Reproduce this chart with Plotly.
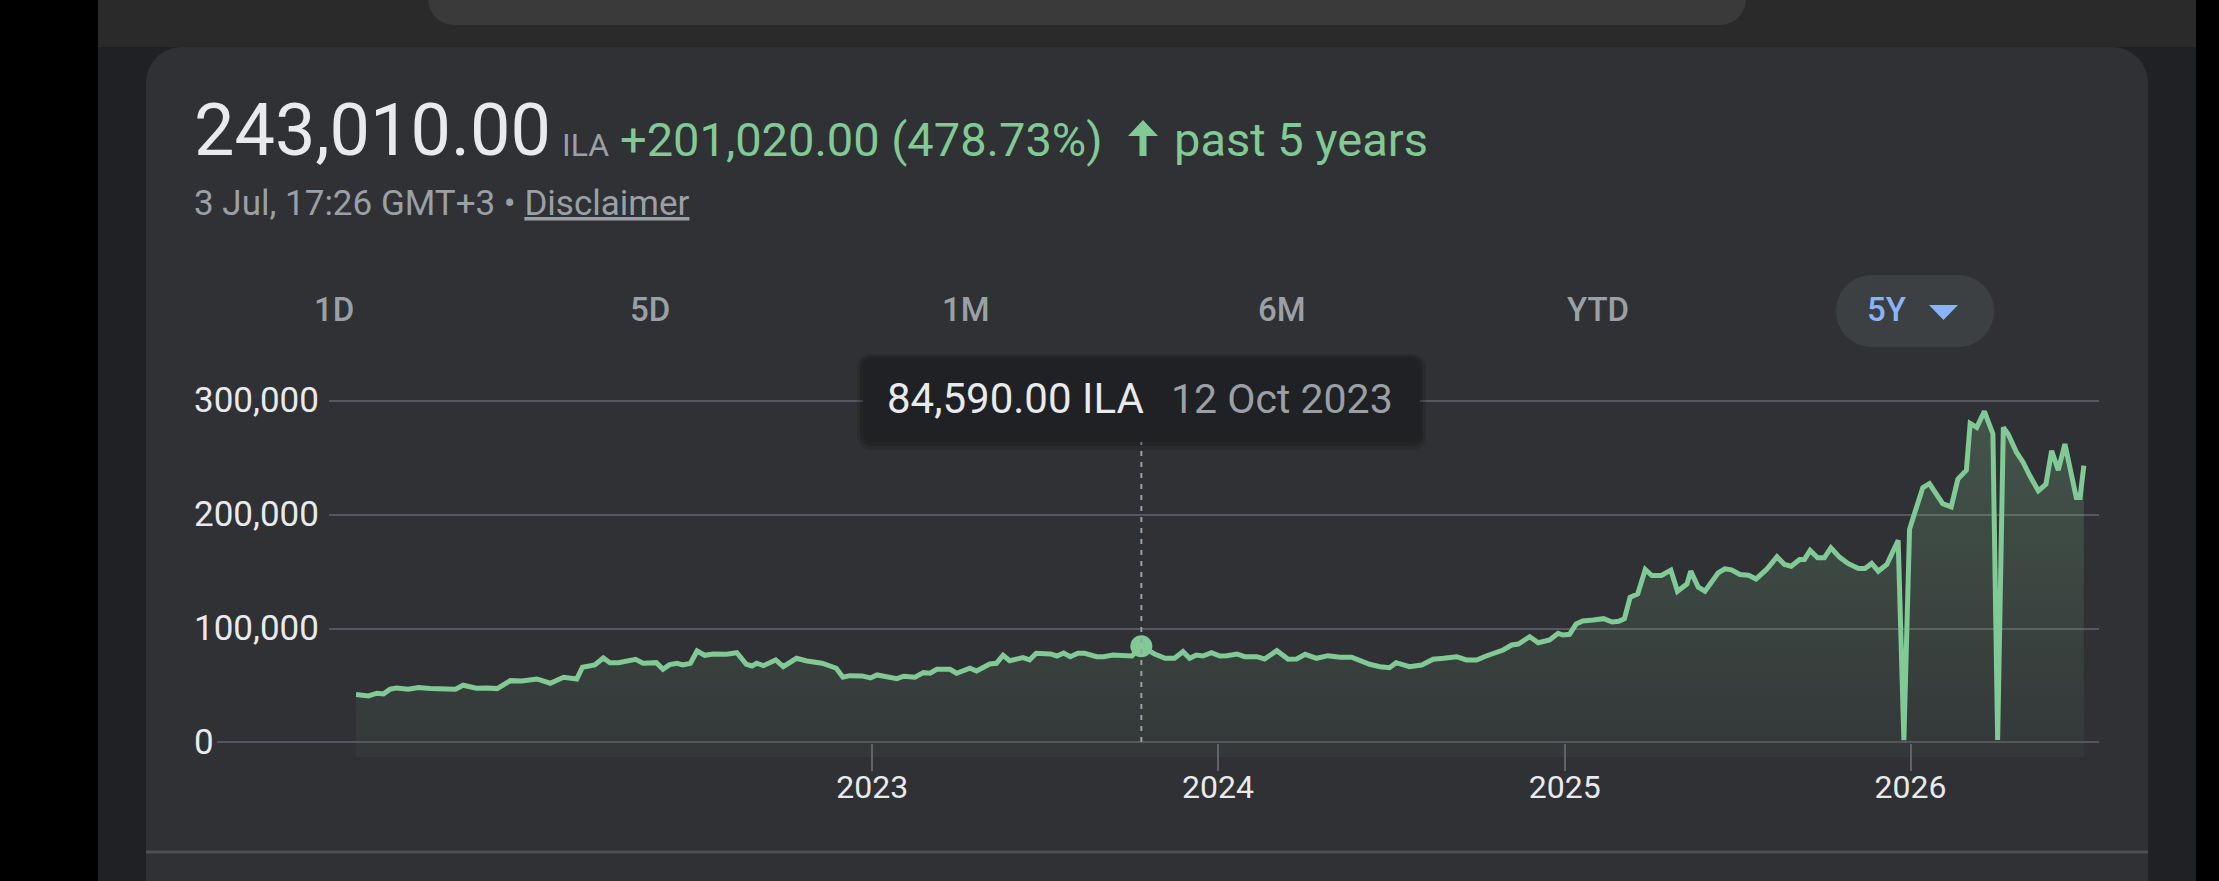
import plotly.graph_objects as go

W, H = 2219, 881

# price series (ILA)
dates = [
    "2021-07-05", "2021-07-18", "2021-07-27", "2021-08-03", "2021-08-10", "2021-08-17", "2021-08-29",
    "2021-09-09", "2021-09-21", "2021-10-09", "2021-10-18", "2021-10-26", "2021-11-09", "2021-11-20",
    "2021-12-01", "2021-12-15", "2021-12-27", "2022-01-12", "2022-01-26", "2022-02-09", "2022-02-23",
    "2022-03-01", "2022-03-14", "2022-03-23", "2022-03-30", "2022-04-08", "2022-04-26", "2022-05-04",
    "2022-05-18", "2022-05-25", "2022-06-01", "2022-06-09", "2022-06-15", "2022-06-23", "2022-06-30",
    "2022-07-08", "2022-07-17", "2022-07-31", "2022-08-11", "2022-08-21", "2022-08-27", "2022-09-01",
    "2022-09-08", "2022-09-21", "2022-09-29", "2022-10-13", "2022-10-24", "2022-11-09", "2022-11-24",
    "2022-12-01", "2022-12-08", "2022-12-21", "2022-12-30", "2023-01-06", "2023-01-14", "2023-01-21",
    "2023-01-27", "2023-02-03", "2023-02-15", "2023-02-24", "2023-03-03", "2023-03-10", "2023-03-24",
    "2023-03-31", "2023-04-14", "2023-04-21", "2023-05-05", "2023-05-12", "2023-05-19", "2023-05-26",
    "2023-06-09", "2023-06-16", "2023-06-23", "2023-07-08", "2023-07-15", "2023-07-22", "2023-07-29",
    "2023-08-06", "2023-08-13", "2023-08-26", "2023-09-02", "2023-09-12", "2023-09-26", "2023-10-02",
    "2023-10-12", "2023-10-26", "2023-11-06", "2023-11-16", "2023-11-25", "2023-12-02", "2023-12-09",
    "2023-12-16", "2023-12-25", "2024-01-03", "2024-01-10", "2024-01-21", "2024-01-29", "2024-02-11",
    "2024-02-19", "2024-03-03", "2024-03-15", "2024-03-24", "2024-04-02", "2024-04-14", "2024-04-26",
    "2024-05-09", "2024-05-21", "2024-05-31", "2024-06-09", "2024-06-20", "2024-06-30", "2024-07-07",
    "2024-07-21", "2024-08-03", "2024-08-15", "2024-08-26", "2024-09-09", "2024-09-19", "2024-09-30",
    "2024-10-10", "2024-10-19", "2024-10-28", "2024-11-06", "2024-11-13", "2024-11-25", "2024-12-04",
    "2024-12-16", "2024-12-25", "2024-12-30", "2025-01-06", "2025-01-13", "2025-01-20", "2025-01-31",
    "2025-02-11", "2025-02-20", "2025-02-27", "2025-03-05", "2025-03-11", "2025-03-19", "2025-03-27",
    "2025-04-03", "2025-04-13", "2025-04-23", "2025-04-30", "2025-05-10", "2025-05-14", "2025-05-22",
    "2025-05-29", "2025-06-12", "2025-06-19", "2025-06-26", "2025-07-05", "2025-07-14", "2025-07-22",
    "2025-08-02", "2025-08-13", "2025-08-21", "2025-08-28", "2025-09-06", "2025-09-11", "2025-09-17",
    "2025-09-25", "2025-10-02", "2025-10-09", "2025-10-18", "2025-10-27", "2025-11-07", "2025-11-14",
    "2025-11-21", "2025-11-28", "2025-12-07", "2025-12-19", "2025-12-25", "2025-12-31", "2026-01-05",
    "2026-01-14", "2026-01-21", "2026-02-04", "2026-02-13", "2026-02-20", "2026-03-01", "2026-03-05",
    "2026-03-12", "2026-03-20", "2026-03-29", "2026-04-03", "2026-04-09", "2026-04-14", "2026-04-23",
    "2026-04-30", "2026-05-07", "2026-05-16", "2026-05-24", "2026-05-30", "2026-06-06", "2026-06-13",
    "2026-06-25", "2026-06-29", "2026-07-03",
]
prices = [
    42260, 41130, 43490, 42880, 46990, 48130, 46990,
    48390, 47510, 47860, 46990, 50490, 47860, 48130,
    47510, 54510, 54250, 56000, 52240, 57490, 56000,
    66240, 68250, 74380, 70260, 70260, 73240, 69740,
    70260, 64490, 68510, 69740, 68250, 69740, 80500,
    76740, 77880, 77610, 79010, 68860, 67380, 69740,
    67640, 72630, 66760, 74110, 71750, 69740, 65360,
    57490, 58890, 58630, 56880, 59500, 58010, 57750,
    56260, 58360, 57490, 61510, 60990, 64490, 64490,
    60990, 65360, 63000, 69130, 69740, 76740, 72010,
    74640, 72630, 78490, 77880, 76130, 78750, 75510,
    78490, 78490, 75510, 75510, 77000, 77000, 76130,
    84590, 77880, 74110, 74110, 79890, 74110, 77000,
    76130, 79010, 76130, 76390, 77880, 75510, 75510,
    73500, 80760, 73240, 73500, 77610, 74110, 76390,
    74990, 74990, 71140, 68860, 66760, 65890, 70260,
    66760, 68250, 73240, 74110, 75510, 72630, 72630,
    76130, 78490, 81380, 85750, 86630, 93010, 87760,
    90130, 95990, 94500, 95110, 104130, 106750, 107630,
    108850, 105860, 106480, 108850, 127600, 130500, 151980,
    146700, 146700, 151360, 132880, 139300, 150480, 136400,
    132880, 149000, 152500, 151620, 147580, 146960, 143700,
    151980, 163060, 156380, 154880, 160780, 160780, 168700,
    162180, 162180, 171000, 162800, 157260, 152860, 152860,
    157260, 150480, 156380, 177500, 2400, 187180, 200380,
    223800, 227300, 209700, 206800, 231180, 239100, 280100,
    276600, 290660, 270780, 2400, 276600, 270780, 254580,
    245780, 234080, 220880, 226780, 256080, 239100, 261980,
    215000, 215000, 243010,
]

# hovered point shown in the tooltip
hover_date = "2023-10-12"
hover_price = 84590
hover_text = "84,590.00 ILA"
hover_label = "12 Oct 2023"

y_ticks = [0, 100000, 200000, 300000]
y_tick_text = ["0", "100,000", "200,000", "300,000"]
x_ticks = ["2023-01-01", "2024-01-01", "2025-01-01", "2026-01-01"]
x_tick_text = ["2023", "2024", "2025", "2026"]
range_buttons = ["1D", "5D", "1M", "6M", "YTD", "5Y"]

GREEN = "#81c995"
CARD = "#303134"
FONT = "Roboto"


def px(x):
    return x / W


def py(y):
    return 1 - y / H


def rrect(x0, y0, x1, y1, r):
    # rounded rectangle in pixel units -> paper path
    k = 0.5523 * r
    pts = [
        ("M", [(x0 + r, y0)]),
        ("L", [(x1 - r, y0)]),
        ("C", [(x1 - r + k, y0), (x1, y0 + r - k), (x1, y0 + r)]),
        ("L", [(x1, y1 - r)]),
        ("C", [(x1, y1 - r + k), (x1 - r + k, y1), (x1 - r, y1)]),
        ("L", [(x0 + r, y1)]),
        ("C", [(x0 + r - k, y1), (x0, y1 - r + k), (x0, y1 - r)]),
        ("L", [(x0, y0 + r)]),
        ("C", [(x0, y0 + r - k), (x0 + r - k, y0), (x0 + r, y0)]),
    ]
    out = ""
    for cmd, coords in pts:
        out += cmd + " ".join(f"{px(a):.5f},{py(b):.5f}" for a, b in coords) + " "
    return out + "Z"


def poly(points):
    return "M" + " L".join(f"{px(a):.5f},{py(b):.5f}" for a, b in points) + " Z"


fig = go.Figure()

fig.add_trace(go.Scatter(
    x=dates, y=prices, mode="lines",
    line=dict(color=GREEN, width=5),
    fill="tozeroy",
    fillgradient=dict(
        type="vertical",
        colorscale=[[0, "rgba(129,201,149,0.05)"], [1, "rgba(129,201,149,0.24)"]],
        start=0, stop=300000,
    ),
    hoverinfo="skip", showlegend=False,
))

fig.add_trace(go.Scatter(
    x=[hover_date], y=[hover_price], mode="markers",
    marker=dict(color=GREEN, size=22),
    cliponaxis=False, hoverinfo="skip", showlegend=False,
))

shapes = [
    # page background pieces
    dict(type="rect", xref="paper", yref="paper", x0=px(98), x1=px(2196), y0=py(0), y1=py(881),
         fillcolor="#202124", line_width=0, layer="below"),
    dict(type="rect", xref="paper", yref="paper", x0=px(98), x1=px(2196), y0=py(0), y1=py(47),
         fillcolor="#2a2a2b", line_width=0, layer="below"),
    dict(type="path", xref="paper", yref="paper", path=rrect(428, -60, 1746, 25, 26),
         fillcolor="#3a3a3b", line_width=0, layer="below"),
    dict(type="path", xref="paper", yref="paper", path=rrect(146, 47, 2148, 960, 36),
         fillcolor=CARD, line_width=0, layer="below"),
    # bottom divider
    dict(type="line", xref="paper", yref="paper", x0=px(146), x1=px(2148), y0=py(852), y1=py(852),
         line=dict(color="#4d4f53", width=3), layer="below"),
    # time range pill
    dict(type="path", xref="paper", yref="paper", path=rrect(1836, 275, 1994, 347, 36),
         fillcolor="#3c4043", line_width=0, layer="below"),
    dict(type="path", xref="paper", yref="paper",
         path=poly([(1929, 305), (1958, 305), (1943.5, 320)]),
         fillcolor="#8ab4f8", line_width=0),
    # up arrow in header
    dict(type="path", xref="paper", yref="paper",
         path=poly([(1139.5, 156), (1146.5, 156), (1146.5, 136), (1158, 136), (1143, 120),
                    (1128, 136), (1139.5, 136)]),
         fillcolor=GREEN, line_width=0),
    # fill continues a little under the zero line
    dict(type="rect", xref="x", yref="paper", x0=dates[0], x1=dates[-1], y0=py(757), y1=py(743),
         fillcolor="rgba(129,201,149,0.05)", line_width=0, layer="below"),
    # zero line, longer than the other gridlines
    dict(type="line", xref="paper", yref="y", x0=px(217), x1=px(2099), y0=0, y1=0,
         line=dict(color="#5f6368", width=3)),
    # crosshair
    dict(type="line", xref="x", yref="paper", x0=hover_date, x1=hover_date, y0=py(742), y1=py(442),
         line=dict(color="#9aa0a6", width=2, dash="5px,6px")),
    # tooltip with soft shadow
    dict(type="path", xref="paper", yref="paper", path=rrect(857, 354, 1426, 450, 14),
         fillcolor="rgba(0,0,0,0.12)", line_width=0),
    dict(type="path", xref="paper", yref="paper", path=rrect(860, 356, 1423, 446, 11),
         fillcolor="rgba(0,0,0,0.15)", line_width=0),
    dict(type="path", xref="paper", yref="paper", path=rrect(863, 358, 1420, 442, 9),
         fillcolor="#202124", line_width=0),
]

ann = []


def label(x, y, text, size, color, anchor="left", weight=400, xref="paper", yref="paper"):
    ann.append(dict(
        x=x, y=y, xref=xref, yref=yref, text=text, showarrow=False,
        xanchor=anchor, yanchor="middle",
        font=dict(family=FONT, size=size, color=color, weight=weight),
    ))


# header
label(px(192), py(130.5), "243,010.00", 72, "#e8eaed")
label(px(560), py(144.5), "ILA", 32, "#9aa0a6")
label(px(618), py(139.5), "+201,020.00 (478.73%)", 47, GREEN)
label(px(1172), py(139.5), "past 5 years", 47, GREEN)
label(px(192), py(203.5), "3 Jul, 17:26 GMT+3 • <u>Disclaimer</u>", 35, "#9aa0a6")

# range buttons
tab_x = [333.5, 650, 966, 1282, 1598, 1886]
for tx, name in zip(tab_x, range_buttons):
    col = "#8ab4f8" if name == "5Y" else "#9aa0a6"
    label(px(tx), py(310), name, 33, col, anchor="center", weight=500)

# y labels, left aligned like the source
for v, t in zip(y_ticks, y_tick_text):
    label(px(192), v, t, 35, "#e8eaed", yref="y")

# tooltip text
label(px(885), py(399), hover_text, 42, "#e8eaed")
label(px(1169), py(399), hover_label, 41, "#9aa0a6")

fig.update_layout(
    width=W, height=H, autosize=False,
    margin=dict(l=0, r=0, t=0, b=0),
    paper_bgcolor="#000000", plot_bgcolor="rgba(0,0,0,0)",
    font=dict(family=FONT, color="#e8eaed"),
    shapes=shapes, annotations=ann,
    xaxis=dict(
        domain=[px(328.6), px(2099)],
        range=["2021-06-06", "2026-07-19"],
        tickvals=x_ticks, ticktext=x_tick_text,
        ticks="outside", ticklen=27, tickwidth=1.5, tickcolor="#5f6368",
        ticklabelstandoff=-11,
        tickfont=dict(family=FONT, size=32, color="#e8eaed"),
        showgrid=False, zeroline=False, showline=False, automargin=False,
    ),
    yaxis=dict(
        domain=[py(742.8), py(380)],
        range=[0, 318106],
        tickvals=y_ticks[1:], showticklabels=False,
        showgrid=True, gridcolor="#55585c", gridwidth=2,
        zeroline=False, showline=False, automargin=False,
    ),
)

fig.write_html(
    "out.html",
    config={"displayModeBar": False},
    post_script="document.body.style.margin='0';document.body.style.overflow='hidden';",
)
